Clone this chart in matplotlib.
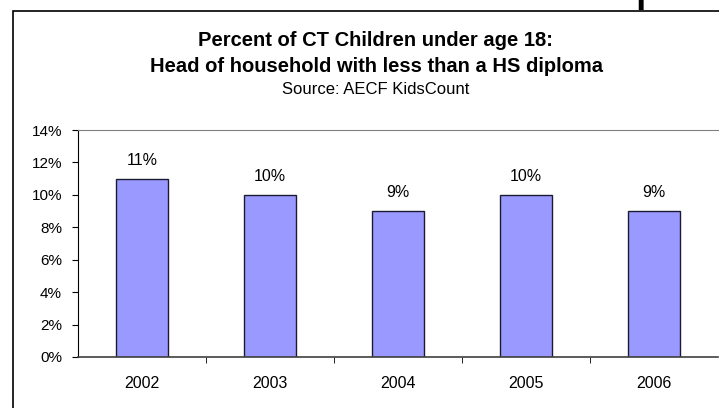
"""Percent of CT children with head of household lacking a HS diploma."""

import matplotlib
import matplotlib.pyplot as plt
from matplotlib.patches import Rectangle
from matplotlib.ticker import FixedLocator

matplotlib.use("Agg")

plt.rcParams["font.family"] = ["Liberation Sans", "DejaVu Sans"]

# Data
years = ["2002", "2003", "2004", "2005", "2006"]
percent = [11, 10, 9, 10, 9]
y_ticks = [0, 2, 4, 6, 8, 10, 12, 14]

W, H = 719, 408
fig = plt.figure(figsize=(W / 100, H / 100), dpi=100)

# outer chart frame (runs off the right and bottom edges)
fig.patches.append(Rectangle((13 / W, -0.1), 1.2, 1 - 11 / H + 0.1,
                             transform=fig.transFigure, fill=False,
                             edgecolor="black", linewidth=1.2))

# tail of a heading cut off above the picture
fig.text(634 / W, 1 + 2 / H, "p", ha="left", va="baseline", fontsize=40)

title_x = 376 / W
fig.text(title_x, 1 - 46 / H, "Percent of CT Children under age 18:",
         ha="center", va="baseline", fontsize=14.5, fontweight="bold")
fig.text(title_x, 1 - 72.5 / H, "Head of household with less than a HS diploma",
         ha="center", va="baseline", fontsize=14.5, fontweight="bold")
fig.text(title_x, 1 - 94 / H, "Source: AECF KidsCount",
         ha="center", va="baseline", fontsize=12)

left, right, top, bottom = 78, 718, 130, 357
ax = fig.add_axes([left / W, 1 - bottom / H, (right - left) / W, (bottom - top) / H])

x = range(len(years))
bars = ax.bar(x, percent, width=0.4, color="#9999FF", edgecolor="#1a1a33",
              linewidth=1.0, zorder=3)
for b, v in zip(bars, percent):
    ax.annotate(f"{v}%", (b.get_x() + b.get_width() / 2, v),
                xytext=(0, 10), textcoords="offset points",
                ha="center", va="baseline", fontsize=11.5)

ax.set_xlim(-0.5, len(years) - 0.5)
ax.set_ylim(0, 14)
ax.set_yticks(y_ticks)
ax.set_yticklabels([f"{t}%" for t in y_ticks], fontsize=11)
ax.set_xticks(list(x))
ax.set_xticklabels(years, fontsize=11.5)
ax.xaxis.set_minor_locator(FixedLocator([i + 0.5 for i in range(len(years) - 1)]))

ax.tick_params(axis="x", which="major", length=0, pad=14)
ax.tick_params(axis="x", which="minor", length=4, direction="out", color="black")
ax.tick_params(axis="y", length=4.5, direction="out", color="black", pad=7)

for side in ("right", "bottom"):
    ax.spines[side].set_visible(False)
ax.spines["top"].set_color("#808080")
ax.spines["left"].set_color("black")
ax.axhline(0, color="#404040", linewidth=1.2, zorder=4, clip_on=False)

fig.savefig("out.png", dpi=100)
